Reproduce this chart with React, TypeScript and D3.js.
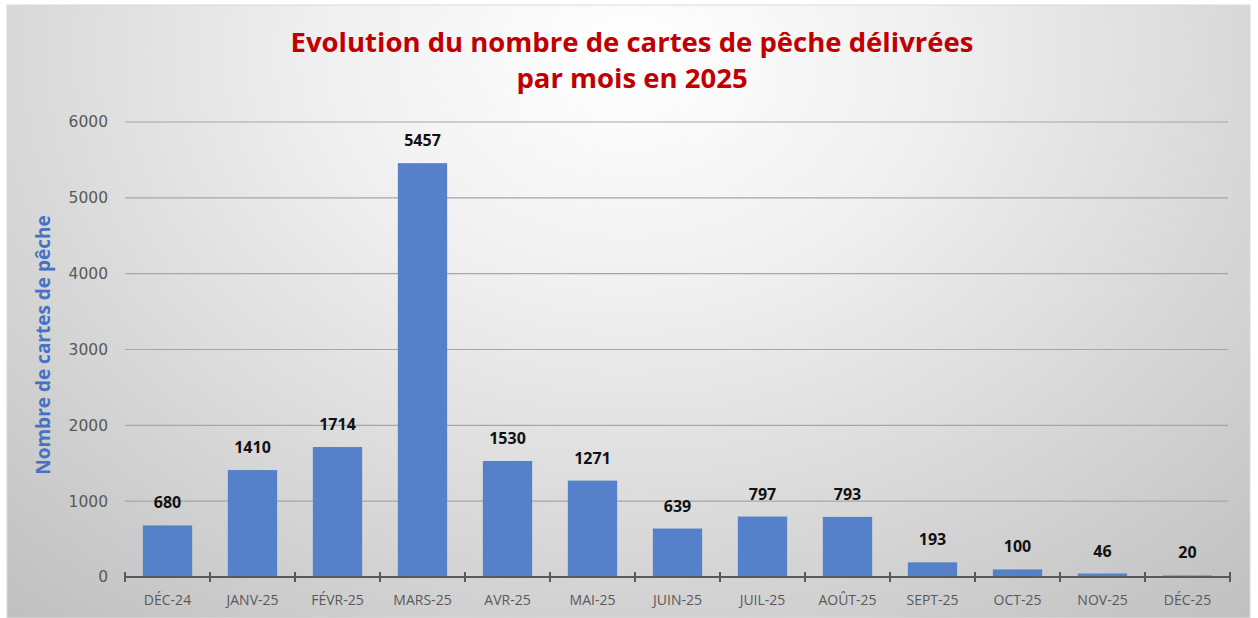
import React, { useEffect, useRef } from "react";
import * as d3 from "d3";

const months = [
  "DÉC-24", "JANV-25", "FÉVR-25", "MARS-25", "AVR-25", "MAI-25", "JUIN-25",
  "JUIL-25", "AOÛT-25", "SEPT-25", "OCT-25", "NOV-25", "DÉC-25",
];
const cartes = [680, 1410, 1714, 5457, 1530, 1271, 639, 797, 793, 193, 100, 46, 20];
const yTicks = [0, 1000, 2000, 3000, 4000, 5000, 6000];
const titleLines = [
  "Evolution du nombre de cartes de pêche délivrées",
  "par mois en 2025",
];
const yTitle = "Nombre de cartes de pêche";

const W = 1258;
const H = 618;

export default function App() {
  const ref = useRef<SVGSVGElement>(null);

  useEffect(() => {
    document.body.style.margin = "0";
    const svg = d3.select(ref.current);
    svg.selectAll("*").remove();

    // background gradient
    const defs = svg.append("defs");
    const grad = defs.append("radialGradient")
      .attr("id", "bg")
      .attr("cx", "50%").attr("cy", "8%").attr("r", "80%")
      .attr("gradientTransform", "translate(0.5,0.08) scale(1,1.6) translate(-0.5,-0.08)");
    grad.append("stop").attr("offset", "0%").attr("stop-color", "#ffffff");
    grad.append("stop").attr("offset", "30%").attr("stop-color", "#f0f0f0");
    grad.append("stop").attr("offset", "100%").attr("stop-color", "#bcbcbc");

    svg.append("rect").attr("width", W).attr("height", H).attr("fill", "#fff");
    svg.append("rect")
      .attr("x", 7).attr("y", 5)
      .attr("width", 1243).attr("height", H - 5)
      .attr("fill", "url(#bg)")
      .attr("stroke", "#d9d9d9");

    const x = d3.scaleBand<string>()
      .domain(months)
      .range([125, 1230])
      .paddingInner(0.42)
      .paddingOuter(0.21);

    const y = d3.scaleLinear().domain([0, 6000]).range([577, 122]);

    // gridlines
    svg.append("g")
      .selectAll("line")
      .data(yTicks.filter((t) => t > 0))
      .join("line")
      .attr("x1", 125).attr("x2", 1228)
      .attr("y1", (d) => y(d)).attr("y2", (d) => y(d))
      .attr("stroke", "#a6a6a6")
      .attr("stroke-width", 1.2);

    // y axis labels
    const yAxis = svg.append("g")
      .attr("transform", "translate(112,0)")
      .call(d3.axisLeft(y).tickValues(yTicks).tickFormat(d3.format("d")).tickSize(0).tickPadding(4));
    yAxis.select(".domain").remove();
    yAxis.selectAll("text")
      .attr("font-family", "DejaVu Sans")
      .attr("font-size", 15.5)
      .attr("fill", "#595959");

    // bars
    svg.append("g")
      .selectAll("rect")
      .data(cartes)
      .join("rect")
      .attr("x", (_, i) => x(months[i])!)
      .attr("width", x.bandwidth())
      .attr("y", (d) => y(d))
      .attr("height", (d) => y(0) - y(d))
      .attr("fill", "#5581cb");

    // data labels
    svg.append("g")
      .selectAll("text")
      .data(cartes)
      .join("text")
      .attr("x", (_, i) => x(months[i])! + x.bandwidth() / 2)
      .attr("y", (d) => y(d) - 17)
      .attr("text-anchor", "middle")
      .attr("font-family", "Open Sans")
      .attr("font-weight", 700)
      .attr("font-size", 16)
      .attr("fill", "#111")
      .text((d) => d);

    // x axis line + tick marks at category boundaries
    const step = x.step();
    const bounds = d3.range(months.length + 1).map((i) => 125 + i * step);
    const axisG = svg.append("g");
    axisG.append("line")
      .attr("x1", 125).attr("x2", 1230)
      .attr("y1", y(0)).attr("y2", y(0))
      .attr("stroke", "#595959").attr("stroke-width", 2.2);
    axisG.selectAll(".tk")
      .data(bounds)
      .join("line")
      .attr("class", "tk")
      .attr("x1", (d) => d).attr("x2", (d) => d)
      .attr("y1", y(0) - 5).attr("y2", y(0) + 5)
      .attr("stroke", "#595959").attr("stroke-width", 2);

    const xAxis = svg.append("g")
      .attr("transform", `translate(0,${y(0)})`)
      .call(d3.axisBottom(x).tickSize(0).tickPadding(18));
    xAxis.select(".domain").remove();
    xAxis.selectAll("text")
      .attr("font-family", "Open Sans")
      .attr("font-size", 14)
      .attr("fill", "#595959");

    // y axis title
    svg.append("text")
      .attr("transform", "translate(50,345) rotate(-90)")
      .attr("text-anchor", "middle")
      .attr("font-family", "Open Sans")
      .attr("font-weight", 700)
      .attr("font-size", 19)
      .attr("fill", "#4472c4")
      .text(yTitle);

    // title
    svg.append("g")
      .selectAll("text")
      .data(titleLines)
      .join("text")
      .attr("x", 632)
      .attr("y", (_, i) => 52 + i * 36)
      .attr("text-anchor", "middle")
      .attr("font-family", "Open Sans")
      .attr("font-weight", 700)
      .attr("font-size", 27.5)
      .attr("fill", "#c00000")
      .text((d) => d);
  }, []);

  return <svg ref={ref} width={W} height={H} style={{ display: "block" }} />;
}
